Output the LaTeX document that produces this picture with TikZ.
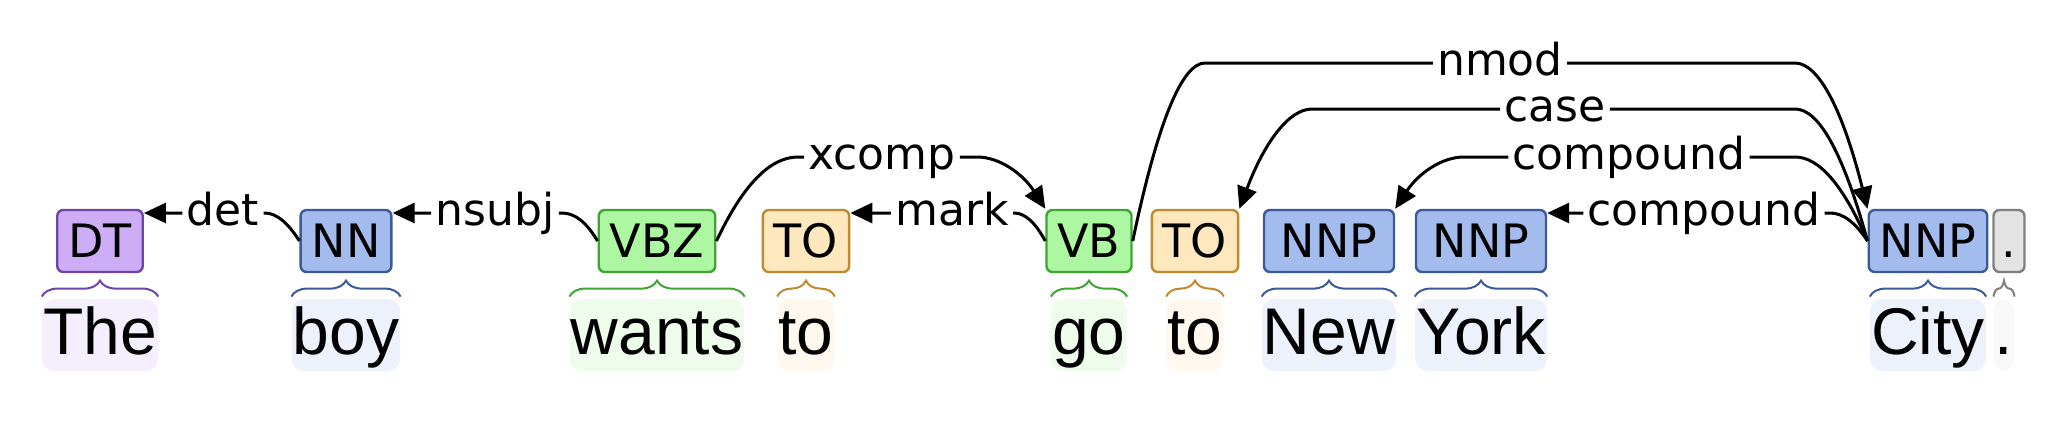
\documentclass[tikz,border=0pt]{standalone}
\usepackage{fontspec}
\setmainfont{Liberation Sans}
\newfontfamily\tagfont{DejaVu Sans}
\usetikzlibrary{arrows.meta,decorations.pathreplacing,calc}

\definecolor{dtfill}{HTML}{CCADF6}
\definecolor{dtline}{HTML}{6E44A8}
\definecolor{dtword}{HTML}{F4EEFD}
\definecolor{nnfill}{HTML}{A4BCED}
\definecolor{nnline}{HTML}{3B5A9A}
\definecolor{nnword}{HTML}{ECF1FB}
\definecolor{vbfill}{HTML}{ADF6A2}
\definecolor{vbline}{HTML}{3FA532}
\definecolor{vbword}{HTML}{EEFCEC}
\definecolor{tofill}{HTML}{FFE8BE}
\definecolor{toline}{HTML}{BF8A2E}
\definecolor{toword}{HTML}{FFF8EE}
\definecolor{ptfill}{HTML}{E3E3E3}
\definecolor{ptline}{HTML}{7F7F7F}
\definecolor{ptword}{HTML}{F8F8F8}

\tikzset{
  tagbox/.style={draw, rounded corners=3pt, line width=1.2pt, inner xsep=5.5pt, inner ysep=0pt,
    minimum height=31pt, text height=16.8pt, text depth=0pt, font=\tagfont\fontsize{23}{23}\selectfont},
  wordbox/.style={rounded corners=6pt, inner xsep=0.5pt, inner ysep=1.5pt,
    text height=26pt, text depth=7pt, font=\fontsize{33}{33}\selectfont},
  deplabel/.style={inner xsep=2pt, inner ysep=0pt, text height=12pt, text depth=0pt,
    font=\tagfont\fontsize{22}{22}\selectfont},
  deparc/.style={line width=1.5pt},
  deparrow/.style={deparc, -{Triangle[length=11pt,width=10pt]}},
  tokbrace/.style={decorate, decoration={brace, amplitude=8pt}, line width=1pt}
}

\begin{document}
\begin{tikzpicture}[x=0.5pt, y=-0.5pt]
  \useasboundingbox (0,0) rectangle (2058,434);
  % tags
  \node[tagbox, fill=dtfill, draw=dtline] (t1) at (100,241) {DT};
  \node[tagbox, fill=nnfill, draw=nnline] (t2) at (346,241) {NN};
  \node[tagbox, fill=vbfill, draw=vbline] (t3) at (657,241) {VBZ};
  \node[tagbox, fill=tofill, draw=toline] (t4) at (806,241) {TO};
  \node[tagbox, fill=vbfill, draw=vbline] (t5) at (1089,241) {VB};
  \node[tagbox, fill=tofill, draw=toline] (t6) at (1195,241) {TO};
  \node[tagbox, fill=nnfill, draw=nnline, minimum width=65pt] (t7) at (1329,241) {NNP};
  \node[tagbox, fill=nnfill, draw=nnline, minimum width=65pt] (t8) at (1481,241) {NNP};
  \node[tagbox, fill=nnfill, draw=nnline] (t9) at (1928,241) {NNP};
  \node[tagbox, fill=ptfill, draw=ptline, minimum width=15.5pt, inner xsep=2pt] (t10) at (2009,241) {.};
  % words
  \node[wordbox, fill=dtword] (w1) at (100,335) {The};
  \node[wordbox, fill=nnword] (w2) at (346,335) {boy};
  \node[wordbox, fill=vbword] (w3) at (657,335) {wants};
  \node[wordbox, fill=toword] (w4) at (806,335) {to};
  \node[wordbox, fill=vbword] (w5) at (1089,335) {go};
  \node[wordbox, fill=toword] (w6) at (1195,335) {to};
  \node[wordbox, fill=nnword] (w7) at (1329,335) {New};
  \node[wordbox, fill=nnword] (w8) at (1481,335) {York};
  \node[wordbox, fill=nnword] (w9) at (1928,335) {City};
  \node[wordbox, fill=ptword] (w10) at (2004,335) {.};
  % braces
  \draw[tokbrace, dtline] ([yshift=1pt]w1.north west) -- ([yshift=1pt]w1.north east);
  \draw[tokbrace, nnline] ([yshift=1pt]w2.north west) -- ([yshift=1pt]w2.north east);
  \draw[tokbrace, vbline] ([yshift=1pt]w3.north west) -- ([yshift=1pt]w3.north east);
  \draw[tokbrace, toline] ([yshift=1pt]w4.north west) -- ([yshift=1pt]w4.north east);
  \draw[tokbrace, vbline] ([yshift=1pt]w5.north west) -- ([yshift=1pt]w5.north east);
  \draw[tokbrace, toline] ([yshift=1pt]w6.north west) -- ([yshift=1pt]w6.north east);
  \draw[tokbrace, nnline] ([yshift=1pt]w7.north west) -- ([yshift=1pt]w7.north east);
  \draw[tokbrace, nnline] ([yshift=1pt]w8.north west) -- ([yshift=1pt]w8.north east);
  \draw[tokbrace, nnline] ([yshift=1pt]w9.north west) -- ([yshift=1pt]w9.north east);
  \draw[tokbrace, ptline] ([yshift=1pt]w10.north west) -- ([yshift=1pt]w10.north east);
  % relation labels
  \node[deplabel] (det) at (223,213) {det};
  \node[deplabel] (nsubj) at (495,213) {nsubj};
  \node[deplabel] (xcomp) at (882,157) {xcomp};
  \node[deplabel] (mark) at (952,213) {mark};
  \node[deplabel] (nmod) at (1500,63) {nmod};
  \node[deplabel] (case) at (1555,109) {case};
  \node[deplabel] (comp1) at (1629,157) {compound};
  \node[deplabel] (comp2) at (1704,213) {compound};
  % arcs, head side first (quadratic bends written as cubics)
  \draw[deparrow] (t2.west) .. controls ($(t2.west)!2/3!(282,213)$) and (276,213) .. (265,213)
    -- (det.east) (det.west) -- (det.west -| t1.east);
  \draw[deparrow] (t3.west) .. controls ($(t3.west)!2/3!(581,213)$) and (575,213) .. (562,213)
    -- (nsubj.east) (nsubj.west) -- (nsubj.west -| t2.east);
  \draw[deparrow] (t3.east) .. controls ($(t3.east)!2/3!(756,157)$) and (770,157) .. (798,157)
    -- (xcomp.west) (xcomp.east) -- (977,157)
    .. controls (1000,157) and ($(t5.north west)!2/3!(1012,157)$) .. (t5.north west);
  \draw[deparrow] (t5.west) .. controls ($(t5.west)!2/3!(1030,213)$) and (1025,213) .. (1014,213)
    -- (mark.east) (mark.west) -- (mark.west -| t4.east);
  \draw[deparrow] (t5.east) .. controls ($(t5.east)!2/3!(1170,63)$) and (1182,63) .. (1205,63)
    -- (nmod.west) (nmod.east) -- (1795,63)
    .. controls (1819,63) and ($(t9.north west)!2/3!(1831,63)$) .. (t9.north west);
  \draw[deparrow] (t9.west) .. controls ($(t9.west)!2/3!(1831,109)$) and (1819,109) .. (1795,109)
    -- (case.east) (case.west) -- (1312,109)
    .. controls (1289,109) and ($(t6.north east)!2/3!(1277,109)$) .. (t6.north east);
  \draw[deparrow] (t9.west) .. controls ($(t9.west)!2/3!(1831,157)$) and (1819,157) .. (1795,157)
    -- (comp1.east) (comp1.west) -- (1464,157)
    .. controls (1441,157) and ($(t7.north east)!2/3!(1429,157)$) .. (t7.north east);
  \draw[deparrow] (t9.west) .. controls ($(t9.west)!2/3!(1849,213)$) and (1843,213) .. (1830,213)
    -- (comp2.east) (comp2.west) -- (comp2.west -| t8.east);
\end{tikzpicture}
\end{document}
